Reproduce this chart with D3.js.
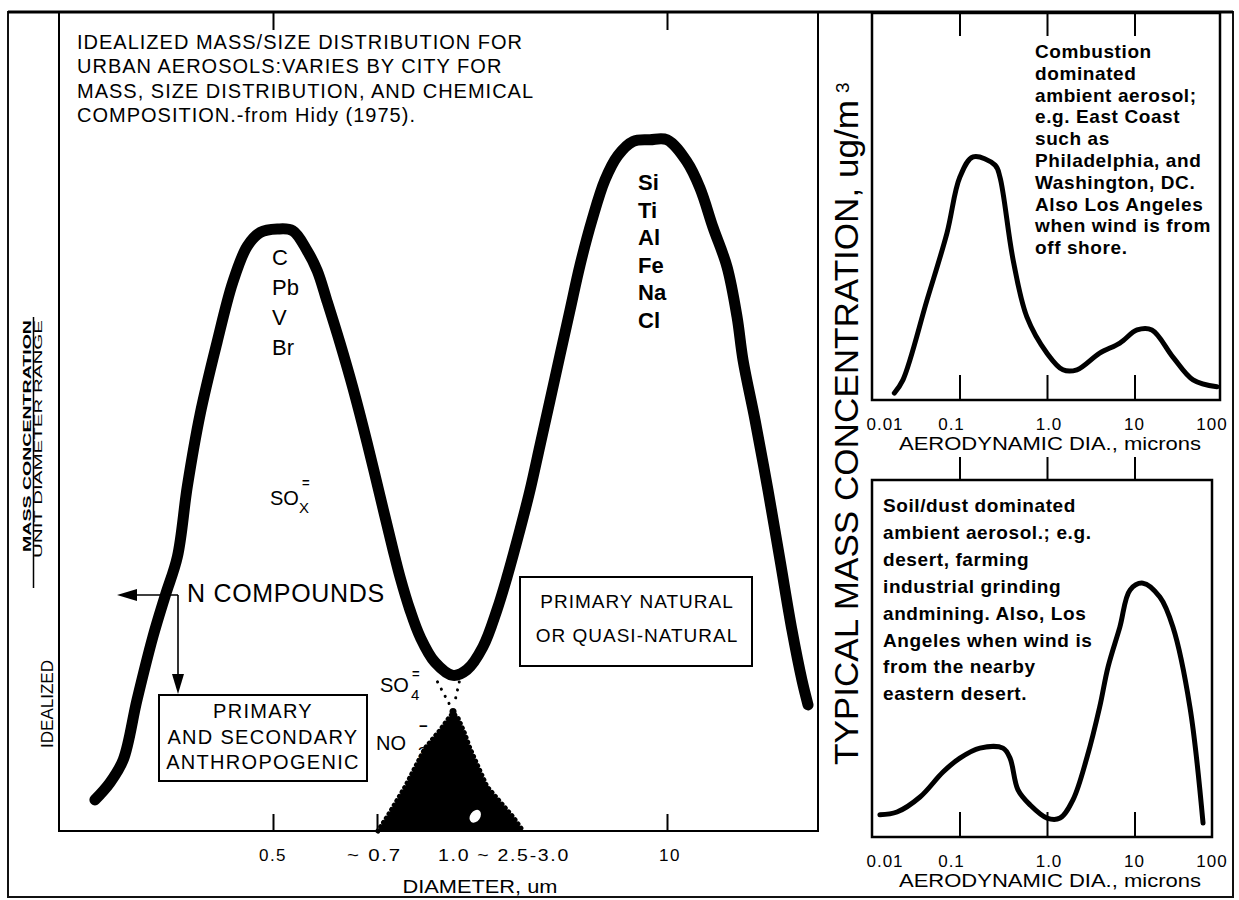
<!DOCTYPE html>
<html>
<head>
<meta charset="utf-8">
<script src="https://cdn.jsdelivr.net/npm/d3@7"></script>
<style>
  body { margin: 0; background: #fff; }
  svg text { font-family: "Liberation Sans", Arial, Helvetica, sans-serif; fill: #000; }
</style>
</head>
<body>
<svg id="chart" width="1239" height="900"></svg>
<script>
// ---- data ----
// idealized urban aerosol mass distribution (left panel), diameter in um, mass in relative units
const idealDiameter = [0.281, 0.295, 0.308, 0.322, 0.339, 0.353, 0.367, 0.379, 0.395, 0.417, 0.439, 0.460, 0.480, 0.507,
  0.533, 0.558, 0.577, 0.595, 0.621, 0.648, 0.678, 0.710, 0.755, 0.780, 0.817, 0.857, 0.919, 1.0,
  1.163, 1.381, 1.605, 1.788, 2.056, 2.290, 2.551, 2.841, 3.162, 3.522, 3.923, 4.463, 5.132, 5.902, 6.937, 8.33,
  10.0, 12.4, 14.26, 16.41, 19.07, 21.24, 22.66, 25.78, 29.65, 33.73, 38.38, 42.73, 45.6];
const idealMass = [3.8, 5.9, 8.7, 16.0, 23.7, 28.8, 33.5, 42.1, 50.9, 59.6, 67.0, 71.4, 73.1, 73.5,
  73.3, 70.9, 68.4, 64.8, 59.6, 54.0, 47.4, 40.9, 34.3, 31.0, 27.0, 23.7, 20.6, 19.0,
  19.7, 22.5, 27.0, 31.0, 36.8, 41.6, 47.1, 52.6, 58.1, 63.6, 69.1, 74.6, 79.5, 82.5, 84.2, 84.4,
  84.4, 81.7, 78.5, 73.7, 68.9, 62.8, 57.5, 50.2, 41.6, 33.1, 24.5, 18.4, 15.4];

// NO3 / SO4 mode (black triangle)
const no3Diameter = [0.703, 0.734, 0.799, 0.877, 0.941, 0.981, 1.0, 1.055, 1.126, 1.200, 1.442, 1.908, 2.124];
const no3Mass = [0, 1.7, 5.4, 10.1, 12.3, 13.8, 14.4, 13.8, 12.1, 10.1, 5.4, 1.7, 0];

const mainBottomTicks = [0.5, 0.7, 10];
const mainTopTicks = [0.5, 10];
const mainTickValues = [0.5, 0.7, 1.0, 10];
const mainTickLabels = ["0.5", "~ 0.7", "1.0 ~ 2.5-3.0", "10"];

const titleLines = [
  "IDEALIZED MASS/SIZE DISTRIBUTION FOR",
  "URBAN AEROSOLS:VARIES BY CITY FOR",
  "MASS, SIZE DISTRIBUTION, AND CHEMICAL",
  "COMPOSITION.-from Hidy (1975)."
];
const fineSpecies = ["C", "Pb", "V", "Br"];
const coarseSpecies = ["Si", "Ti", "Al", "Fe", "Na", "Cl"];

// combustion dominated aerosol (top right)
const combustionDia = [0.018, 0.0226, 0.0425, 0.072, 0.101, 0.143, 0.255, 0.29, 0.41, 0.59, 1.0, 1.52, 2.2, 4.0, 6.8, 10.7, 15.8, 27.5, 46.7, 87.7];
const combustionConc = [1.8, 5.2, 25.8, 43.2, 57.6, 62.8, 60.7, 57.6, 36.2, 21.4, 12.1, 7.8, 7.8, 12.1, 14.7, 18.1, 18.1, 11.1, 5.2, 3.4];

// soil/dust dominated aerosol (bottom right)
const soilDia = [0.0123, 0.0193, 0.0354, 0.0648, 0.101, 0.171, 0.314, 0.378, 0.466, 0.64, 1.0, 1.41, 1.98, 2.87, 4.0, 4.98, 6.8, 8.9, 12.5, 19.5, 27.5, 43, 60.7];
const soilConc = [6.2, 7.0, 11.2, 18.2, 22.1, 24.9, 24.9, 22.1, 13.2, 9.0, 5.3, 5.3, 10.4, 22.4, 36.4, 47.6, 58.8, 69.2, 71.1, 67.2, 58.8, 36.4, 3.9];

const panelTicks = [0.01, 0.1, 1, 10, 100];
const panelTickLabels = ["0.01", "0.1", "1.0", "10", "100"];
const panelInnerTicks = [0.1, 1, 10];

const combustionNote = ["Combustion", "dominated", "ambient aerosol;", "e.g. East Coast", "such as",
  "Philadelphia, and", "Washington, DC.", "Also Los Angeles", "when wind is from", "off shore."];
const soilNote = ["Soil/dust dominated", "ambient aerosol.; e.g.", "desert, farming", "industrial grinding",
  "andmining. Also, Los", "Angeles when wind is", "from the nearby", "eastern desert."];

// ---- drawing ----
const svg = d3.select("#chart");

function label(g, t, x, y, o = {}) {
  const el = g.append("text").attr("x", x).attr("y", y).text(t)
    .attr("font-size", o.size || 18)
    .attr("text-anchor", o.anchor || "start");
  if (o.weight) el.attr("font-weight", o.weight);
  if (o.ls) el.attr("letter-spacing", o.ls);
  if (o.len) el.attr("textLength", o.len).attr("lengthAdjust", "spacingAndGlyphs");
  return el;
}

function ticks(g, axis) {
  g.call(axis).call(a => a.select(".domain").remove());
  g.selectAll(".tick line").attr("stroke", "#000").attr("stroke-width", 2);
}

// frames
svg.append("rect").attr("x", 8).attr("y", 12).attr("width", 1225).attr("height", 885)
  .attr("fill", "none").attr("stroke", "#111").attr("stroke-width", 2);
svg.append("line").attr("x1", 8).attr("x2", 1233).attr("y1", 12).attr("y2", 12)
  .attr("stroke", "#000").attr("stroke-width", 3);

// ===== left panel =====
const mainX = d3.scaleLog().domain([0.5, 0.7, 1, 10]).range([273, 377, 453, 667]);
const mainY = d3.scaleLinear().domain([0, 100]).range([831, 12]);

svg.append("path").attr("d", "M59,12V831H818V12")
  .attr("fill", "none").attr("stroke", "#000").attr("stroke-width", 2);

ticks(svg.append("g").attr("transform", `translate(0,${mainY(0)})`),
  d3.axisBottom(mainX).tickValues(mainBottomTicks).tickSize(-17).tickFormat(""));
ticks(svg.append("g").attr("transform", `translate(0,${mainY(100)})`),
  d3.axisTop(mainX).tickValues(mainTopTicks).tickSize(-18).tickFormat(""));

// NO3 triangle
const no3 = d3.zip(no3Diameter, no3Mass);
svg.append("path").datum(no3)
  .attr("d", d3.area().x(d => mainX(d[0])).y0(mainY(0)).y1(d => mainY(d[1])))
  .attr("fill", "#000");
svg.append("path").datum(no3)
  .attr("d", d3.line().x(d => mainX(d[0])).y(d => mainY(d[1])))
  .attr("fill", "none").attr("stroke", "#000").attr("stroke-width", 5)
  .attr("stroke-linecap", "round").attr("stroke-dasharray", "0.1 5");
svg.append("circle").attr("cx", mainX(1.0)).attr("cy", mainY(14.6)).attr("r", 3.5).attr("fill", "#000");
svg.append("ellipse").attr("cx", mainX(1.27)).attr("cy", mainY(1.8)).attr("rx", 5).attr("ry", 7)
  .attr("transform", `rotate(35,${mainX(1.27)},${mainY(1.8)})`).attr("fill", "#fff");

// dotted links from the curve minimum to the triangle apex
[[0.93, 0.985], [1.07, 1.012]].forEach(([a, b]) => {
  svg.append("line")
    .attr("x1", mainX(a)).attr("y1", mainY(18.2)).attr("x2", mainX(b)).attr("y2", mainY(15.4))
    .attr("stroke", "#000").attr("stroke-width", 3).attr("stroke-linecap", "round")
    .attr("stroke-dasharray", "0.1 8");
});

// main distribution curve
svg.append("path").datum(d3.zip(idealDiameter, idealMass))
  .attr("d", d3.line().x(d => mainX(d[0])).y(d => mainY(d[1])).curve(d3.curveCatmullRom.alpha(0.5)))
  .attr("fill", "none").attr("stroke", "#000").attr("stroke-width", 11)
  .attr("stroke-linejoin", "round").attr("stroke-linecap", "round");

// tick labels
const tickAnchor = ["middle", "middle", "start", "middle"];
const tickDx = [0, -2.5, -15, 3];
const tickLen = [null, 55, 132, null];
mainTickValues.forEach((v, i) => {
  label(svg, mainTickLabels[i], mainX(v) + tickDx[i], 861,
    { size: 17, anchor: tickAnchor[i], ls: 1.5, len: tickLen[i] });
});
label(svg, "DIAMETER, um", 480, 893, { size: 19, anchor: "middle", len: 155 });

// title
titleLines.forEach((t, i) => label(svg, t, 77, 49 + i * 24.3, { size: 20, ls: 1 }));

// species labels
fineSpecies.forEach((t, i) => label(svg, t, 272, 265 + i * 30, { size: 22 }));
coarseSpecies.forEach((t, i) => label(svg, t, 638, 190 + i * 27.6, { size: 22, weight: "bold" }));

// SOx, SO4, NO3
label(svg, "SO", 270, 505, { size: 20 });
label(svg, "X", 299, 513, { size: 15 });
label(svg, "=", 302, 487, { size: 13, weight: "bold" });
label(svg, "SO", 380, 692, { size: 20 });
label(svg, "4", 411, 700, { size: 15 });
label(svg, "=", 412, 678, { size: 13, weight: "bold" });
label(svg, "NO", 376, 750, { size: 20 });
label(svg, "3", 418, 759, { size: 16 });
label(svg, "\u2212", 419, 731, { size: 15, weight: "bold" });

// N COMPOUNDS arrows
svg.append("path").attr("d", "M178,595H122M178,595V686")
  .attr("fill", "none").attr("stroke", "#000").attr("stroke-width", 1.6);
svg.append("path").attr("d", "M117,595L137,589L137,601Z").attr("fill", "#000");
svg.append("path").attr("d", "M178,694L172,674L184,674Z").attr("fill", "#000");
label(svg, "N COMPOUNDS", 187, 602, { size: 25, ls: 0.7 });

// boxes
svg.append("rect").attr("x", 159).attr("y", 695).attr("width", 208).attr("height", 86)
  .attr("fill", "#fff").attr("stroke", "#000").attr("stroke-width", 2);
["PRIMARY", "AND SECONDARY", "ANTHROPOGENIC"].forEach((t, i) =>
  label(svg, t, 263, 718 + i * 25.5, { size: 20, anchor: "middle", ls: 1.3 }));

svg.append("rect").attr("x", 520).attr("y", 577).attr("width", 232).attr("height", 89)
  .attr("fill", "#fff").attr("stroke", "#000").attr("stroke-width", 2);
["PRIMARY NATURAL", "OR QUASI-NATURAL"].forEach((t, i) =>
  label(svg, t, 637, 608 + i * 34, { size: 19, anchor: "middle", ls: 1 }));

// left y label
const yl = svg.append("g");
yl.append("g").attr("transform", "translate(53,748) rotate(-90)")
  .call(g => label(g, "IDEALIZED", 0, 0, { size: 17, len: 88 }));
yl.append("g").attr("transform", "translate(31,552) rotate(-90)")
  .call(g => label(g, "MASS CONCENTRATION", 0, 0, { size: 11, weight: "bold", len: 232 }));
yl.append("g").attr("transform", "translate(42,558) rotate(-90)")
  .call(g => label(g, "UNIT DIAMETER RANGE", 0, 0, { size: 10.5, len: 238 }));
yl.append("line").attr("x1", 33.5).attr("x2", 33.5).attr("y1", 317).attr("y2", 588)
  .attr("stroke", "#000").attr("stroke-width", 1.5);

// ===== right panels =====
const panelX = d3.scaleLog().domain([0.01, 100]).range([872, 1222]);
const topY = d3.scaleLinear().domain([0, 100]).range([400, 13]);
const botY = d3.scaleLinear().domain([0, 100]).range([837, 480]);
const tickNudge = [13, -8, 2, 0, -10];

function panel(yScale, right, dia, conc, innerTopTicks) {
  const y0 = yScale(0), y1 = yScale(100);
  svg.append("rect").attr("x", 872).attr("y", y1).attr("width", right - 872).attr("height", y0 - y1)
    .attr("fill", "none").attr("stroke", "#000").attr("stroke-width", 2.5);
  ticks(svg.append("g").attr("transform", `translate(0,${y0})`),
    d3.axisBottom(panelX).tickValues(panelInnerTicks).tickSize(-25).tickFormat(""));
  ticks(svg.append("g").attr("transform", `translate(0,${y1})`),
    d3.axisTop(panelX).tickValues(panelInnerTicks).tickSize(innerTopTicks ? -23 : 23).tickFormat(""));
  svg.append("path").datum(d3.zip(dia, conc))
    .attr("d", d3.line().x(d => panelX(d[0])).y(d => yScale(d[1])).curve(d3.curveCatmullRom.alpha(0.5)))
    .attr("fill", "none").attr("stroke", "#000").attr("stroke-width", 5)
    .attr("stroke-linejoin", "round").attr("stroke-linecap", "round");
  panelTicks.forEach((v, i) =>
    label(svg, panelTickLabels[i], panelX(v) + tickNudge[i], y0 + 30, { size: 17, anchor: "middle", ls: 1 }));
  label(svg, "AERODYNAMIC DIA., microns", 1050, y0 + 50, { size: 19, anchor: "middle", len: 302 });
}

panel(topY, 1220, combustionDia, combustionConc, true);
panel(botY, 1212, soilDia, soilConc, false);

combustionNote.forEach((t, i) => label(svg, t, 1035, 58 + i * 21.8, { size: 19, weight: "bold", ls: 0.6 }));
soilNote.forEach((t, i) => label(svg, t, 883, 512 + i * 26.9, { size: 19, weight: "bold", ls: 0.6 }));

// shared y label of the right panels
const ry = svg.append("g").attr("transform", "translate(858,765) rotate(-90)");
label(ry, "TYPICAL MASS CONCENTRATION, ug/m", 0, 0, { size: 34, len: 665 });
label(ry, "3", 672, -9, { size: 19 });
</script>
</body>
</html>
